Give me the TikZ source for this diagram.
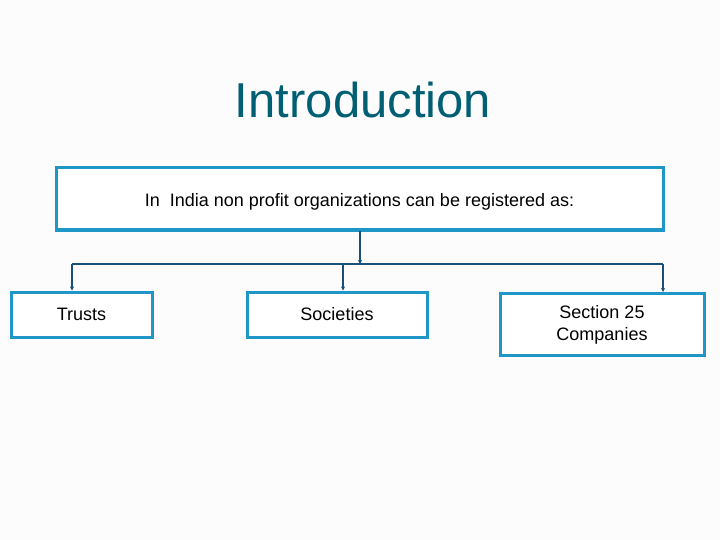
\documentclass[tikz,border=0pt]{standalone}
\usepackage{fontspec}
\setmainfont{Liberation Sans}
\usetikzlibrary{arrows.meta,calc}
\definecolor{titlecol}{RGB}{0,95,115}
\definecolor{boxcol}{RGB}{30,150,200}
\definecolor{linecol}{RGB}{25,80,120}
\definecolor{bgcol}{RGB}{252,252,252}
\begin{document}
\begin{tikzpicture}[x=1pt,y=-1pt,
  box/.style={draw=boxcol,line width=3pt,fill=white,inner sep=2pt,align=center,
    font=\fontsize{18}{22}\selectfont},
  conn/.style={draw=linecol,line width=1.5pt},
  arr/.style={conn,-{Stealth[length=4pt,width=4pt]}}]
\fill[bgcol] (0,0) rectangle (720,540);
\useasboundingbox (0,0) rectangle (720,540);
\node[text=titlecol,font=\fontsize{49}{58}\selectfont,anchor=base] (title) at (363,118) {Introduction};
\node[box,minimum width=607pt,minimum height=62pt] (top) at (359.5,199)
  {\rule{0pt}{19pt}In\ \ India non profit organizations can be registered as:};
\node[box,minimum width=141pt,minimum height=45pt] (trusts) at (81.5,314.5) {Trusts};
\node[box,minimum width=180pt,minimum height=45pt] (soc) at (337,314.5) {Societies};
\node[box,minimum width=204pt,minimum height=62pt,anchor=north] (sec) at (602,292) {Section 25\\Companies};
\coordinate (jc) at (360,264);
\coordinate (jl) at (72,264);
\coordinate (jm) at (343,264);
\coordinate (jr) at (663,264);
\draw[arr] (top.south -| jc) -- (jc);
\draw[conn] (jl) -- (jr);
\draw[arr] (jl) -- (jl |- trusts.north);
\draw[arr] (jm) -- (jm |- soc.north);
\draw[arr] (jr) -- (jr |- sec.north);
\end{tikzpicture}
\end{document}
